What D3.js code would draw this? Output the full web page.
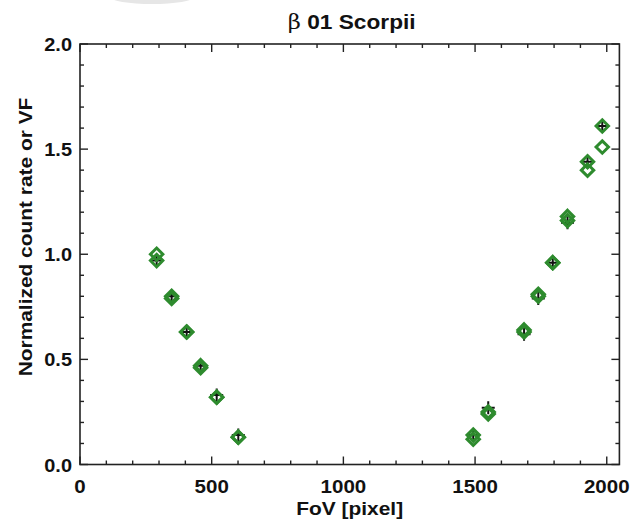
<!DOCTYPE html>
<html><head><meta charset="utf-8">
<script src="https://cdnjs.cloudflare.com/ajax/libs/d3/7.8.5/d3.min.js"></script>
<style>body{margin:0;background:#fff}svg{display:block}</style>
</head><body>
<script>
const titleSymbol = "\u03b2";
const titleText = " 01 Scorpii";
const xLabel = "FoV [pixel]";
const yLabel = "Normalized count rate or VF";
const fovPixels = [291, 348, 405, 458, 519, 601, 1493, 1550, 1686, 1740, 1795, 1851, 1927, 1983];
const countRate = [0.97, 0.80, 0.63, 0.47, 0.33, 0.14, 0.14, 0.27, 0.62, 0.79, 0.96, 1.15, 1.44, 1.61];
const vfA = [0.97, 0.80, 0.63, 0.47, 0.32, 0.13, 0.12, 0.25, 0.63, 0.80, 0.96, 1.16, 1.44, 1.61];
const vfB = [1.00, 0.79, 0.63, 0.46, 0.32, 0.13, 0.14, 0.24, 0.64, 0.81, 0.96, 1.18, 1.40, 1.51];
const xTicks = [0, 500, 1000, 1500, 2000];
const yTicks = [0.0, 0.5, 1.0, 1.5, 2.0];

const W = 634, H = 519;
const m = {l: 80, r: 634 - 619.4, t: 44, b: 519 - 464.5};
const svg = d3.select("body").append("svg").attr("width", W).attr("height", H);
const x = d3.scaleLinear().domain([0, 2048]).range([m.l, W - m.r]);
const y = d3.scaleLinear().domain([0, 2]).range([H - m.b, m.t]);
const font = "'Liberation Sans', Arial, sans-serif";

svg.append("ellipse").attr("cx", 152).attr("cy", -3).attr("rx", 42).attr("ry", 7).attr("fill", "#e6e6e6");

const axColor = "#222";
const minorX = d3.range(0, 2048, 100);
const minorY = d3.range(0, 2.0001, 0.1);
const g = svg.append("g");
function isMajorX(v){ return v % 500 === 0; }
function isMajorY(v){ return Math.abs(v*2 - Math.round(v*2)) < 1e-6; }
minorX.forEach(v => {
  const L = isMajorX(v) ? 8 : 4;
  g.append("line").attr("x1", x(v)).attr("x2", x(v)).attr("y1", y(0)).attr("y2", y(0) - L).attr("stroke", axColor).attr("stroke-width", 1.4);
  g.append("line").attr("x1", x(v)).attr("x2", x(v)).attr("y1", y(2)).attr("y2", y(2) + L).attr("stroke", axColor).attr("stroke-width", 1.4);
});
minorY.forEach(v => {
  const L = isMajorY(v) ? 8 : 4;
  g.append("line").attr("y1", y(v)).attr("y2", y(v)).attr("x1", x(0)).attr("x2", x(0) + L).attr("stroke", axColor).attr("stroke-width", 1.4);
  g.append("line").attr("y1", y(v)).attr("y2", y(v)).attr("x1", x(2048)).attr("x2", x(2048) - L).attr("stroke", axColor).attr("stroke-width", 1.4);
});
g.append("rect").attr("x", x(0)).attr("y", y(2)).attr("width", x(2048) - x(0)).attr("height", y(0) - y(2))
  .attr("fill", "none").attr("stroke", axColor).attr("stroke-width", 1.6);

function label(px, py, txt, size, anchor, sx, rot) {
  const t = svg.append("g").attr("transform", `translate(${px},${py}) rotate(${rot||0}) scale(${sx},1)`);
  return t.append("text").attr("text-anchor", anchor).attr("font-family", font).attr("font-weight", "bold")
    .attr("font-size", size).attr("fill", "#111").text(txt);
}
xTicks.forEach(v => label(x(v), 493, v, 19, "middle", 1.08));
yTicks.forEach(v => label(72, y(v) + 7, v.toFixed(1), 19, "end", 1.05));
label((x(0) + x(2048)) / 2, 515, xLabel, 19, "middle", 1.1);
label(32, 237, yLabel, 19, "middle", 1.1, -90);
const tt = label((x(0) + x(2048)) / 2 + 2, 29, "", 21, "middle", 1.08);
tt.append("tspan").attr("font-weight", "normal").attr("font-family", "'DejaVu Serif', 'Liberation Serif', serif").text(titleSymbol);
tt.append("tspan").text(titleText);

const plusSize = 6.5;
const dia = 6.2;
const green = "#2e8b2e";
const diamondPath = (cx, cy) => `M${cx},${cy-dia}L${cx+dia},${cy}L${cx},${cy+dia}L${cx-dia},${cy}Z`;
const pts = svg.append("g");
fovPixels.forEach((fx, i) => {
  const cx = x(fx), cy = y(countRate[i]);
  pts.append("path").attr("d", `M${cx-plusSize},${cy}H${cx+plusSize}M${cx},${cy-plusSize}V${cy+plusSize}`)
    .attr("stroke", "#111").attr("stroke-width", 2).attr("fill", "none");
});
[vfA, vfB].forEach(arr => {
  fovPixels.forEach((fx, i) => {
    pts.append("path").attr("d", diamondPath(x(fx), y(arr[i])))
      .attr("stroke", green).attr("stroke-width", 3).attr("fill", "none").attr("stroke-linejoin", "miter");
  });
});
</script>
</body></html>
